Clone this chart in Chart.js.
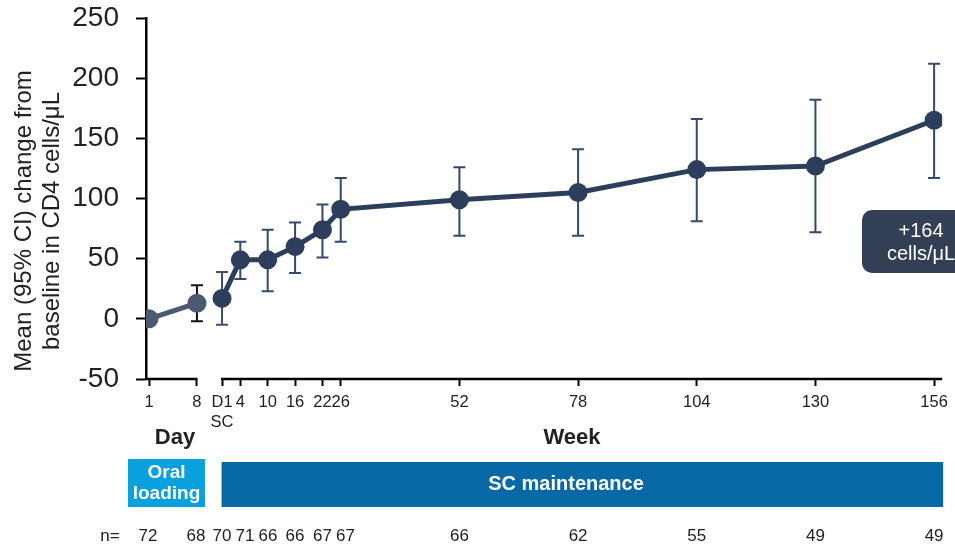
<!DOCTYPE html>
<html>
<head>
<meta charset="utf-8">
<script src="https://cdn.jsdelivr.net/npm/chart.js@4/dist/chart.umd.min.js"></script>
<style>
html,body{margin:0;padding:0;background:#fff;}
canvas{display:block;}
</style>
</head>
<body>
<canvas id="c" width="955" height="545"></canvas>
<script>
// ---- data ----
const dayNumbers = [1, 8];
const dayTickLabels = ['1', '8'];
const dayMean = [0, 13];
const dayLow = [null, -2];
const dayHigh = [null, 28];
const dayN = [72, 68];

const weekNumbers = [0, 4, 10, 16, 22, 26, 52, 78, 104, 130, 156];
const weekTickLabels = [['D1', 'SC'], '4', '10', '16', '22', '26', '52', '78', '104', '130', '156'];
const weekMean = [17, 49, 49, 60, 74, 91, 99, 105, 124, 127, 165];
const weekLow = [-5, 33, 23, 38, 51, 64, 69, 69, 81, 72, 117];
const weekHigh = [39, 64, 74, 80, 95, 117, 126, 141, 166, 182, 212];
const weekN = [70, 71, 66, 66, 67, 67, 66, 62, 55, 49, 49];

const yTicks = [-50, 0, 50, 100, 150, 200, 250];
const yTitleLines = ['Mean (95% CI) change from', 'baseline in CD4 cells/\u03bcL'];
const annotationLines = ['+164', 'cells/\u03bcL'];
const phaseLabels = [['Oral', 'loading'], ['SC maintenance']];

// ---- layout helpers (positions on the shared x axis) ----
const DAY_X0 = -16, DAY_STEP = 1.5;
const dayX = d => DAY_X0 + (d - 1) * DAY_STEP;

const FONT = "'Liberation Sans', Arial, Helvetica, sans-serif";
const WEEK_COLOR = '#2c3e5c';
const DAY_COLOR = '#4a5a72';

const tickVals = dayNumbers.map(dayX).concat(weekNumbers);
const tickLabels = dayTickLabels.concat(weekTickLabels);

const dayData = dayNumbers.map((d, i) => ({x: dayX(d), y: dayMean[i]}));
const weekData = weekNumbers.map((w, i) => ({x: w, y: weekMean[i]}));

const decor = {
  id: 'decor',
  beforeDatasetsDraw(chart) {
    const ctx = chart.ctx, ys = chart.scales.y;
    const sets = [
      {meta: chart.getDatasetMeta(0), low: dayLow, high: dayHigh, color: '#111111'},
      {meta: chart.getDatasetMeta(1), low: weekLow, high: weekHigh, color: '#34496b'}
    ];
    ctx.save();
    ctx.lineWidth = 2;
    sets.forEach(s => {
      s.meta.data.forEach((pt, i) => {
        if (s.low[i] == null) return;
        const x = pt.x, y1 = ys.getPixelForValue(s.low[i]), y2 = ys.getPixelForValue(s.high[i]);
        ctx.strokeStyle = (s === sets[1] && i === 0) ? '#3d4f6c' : s.color;
        ctx.beginPath();
        ctx.moveTo(x, y1); ctx.lineTo(x, y2);
        ctx.moveTo(x - 6, y1); ctx.lineTo(x + 6, y1);
        ctx.moveTo(x - 6, y2); ctx.lineTo(x + 6, y2);
        ctx.stroke();
      });
    });
    ctx.restore();
  },
  afterDraw(chart) {
    const ctx = chart.ctx, xs = chart.scales.x, area = chart.chartArea;
    ctx.save();
    // broken x axis line
    ctx.strokeStyle = '#000';
    ctx.lineWidth = 2.5;
    const yb = area.bottom;
    ctx.beginPath();
    ctx.moveTo(area.left - 1, yb); ctx.lineTo(xs.getPixelForValue(dayX(8)) + 0.5, yb);
    ctx.moveTo(xs.getPixelForValue(0) - 1, yb); ctx.lineTo(area.right, yb);
    ctx.stroke();

    // y axis title
    ctx.fillStyle = '#222';
    ctx.font = '24px ' + FONT;
    ctx.textAlign = 'center';
    ctx.textBaseline = 'middle';
    ctx.save();
    ctx.translate(24, 221);
    ctx.rotate(-Math.PI / 2);
    ctx.fillText(yTitleLines[0], 0, 0);
    ctx.fillText(yTitleLines[1], 0, 28);
    ctx.restore();

    // Day / Week axis titles
    ctx.fillStyle = '#222';
    ctx.font = 'bold 22px ' + FONT;
    ctx.fillText('Day', (xs.getPixelForValue(dayX(1)) + xs.getPixelForValue(dayX(8))) / 2 + 2, 438);
    ctx.fillText('Week', 572, 438);

    // phase bars
    const oL = xs.getPixelForValue(dayX(1)) - 21, oR = xs.getPixelForValue(dayX(8)) + 8;
    ctx.fillStyle = '#08a1de';
    ctx.fillRect(oL, 459, oR - oL, 48);
    const sL = xs.getPixelForValue(0) - 0.5, sR = area.right + 1;
    ctx.fillStyle = '#0869a6';
    ctx.fillRect(sL, 462, sR - sL, 45);
    ctx.fillStyle = '#fff';
    ctx.font = 'bold 19px ' + FONT;
    ctx.fillText(phaseLabels[0][0], (oL + oR) / 2, 473);
    ctx.fillText(phaseLabels[0][1], (oL + oR) / 2, 494);
    ctx.font = 'bold 20px ' + FONT;
    ctx.fillText(phaseLabels[1][0], 566, 484);

    // n row (nudged apart so neighbours do not overlap)
    ctx.fillStyle = '#222';
    ctx.font = '17px ' + FONT;
    ctx.fillText('n=', 110, 536);
    dayNumbers.forEach((d, i) => ctx.fillText(String(dayN[i]), xs.getPixelForValue(dayX(d)) - 1, 536));
    let prev = -Infinity;
    weekNumbers.forEach((w, i) => {
      const px = Math.max(xs.getPixelForValue(w), prev + 23);
      ctx.fillText(String(weekN[i]), px, 536);
      prev = px;
    });

    // annotation box
    ctx.fillStyle = '#333f54';
    ctx.beginPath();
    ctx.roundRect(862, 210, 110, 63, 10);
    ctx.fill();
    ctx.fillStyle = '#fff';
    ctx.font = '20px ' + FONT;
    ctx.fillText(annotationLines[0], 921, 231);
    ctx.fillText(annotationLines[1], 921, 254);
    ctx.restore();
  }
};

new Chart(document.getElementById('c'), {
  type: 'line',
  data: {
    datasets: [
      {
        data: dayData,
        borderColor: DAY_COLOR,
        backgroundColor: DAY_COLOR,
        pointBackgroundColor: DAY_COLOR,
        pointBorderColor: DAY_COLOR,
        borderWidth: 5,
        pointRadius: 7,
        tension: 0
      },
      {
        data: weekData,
        borderColor: WEEK_COLOR,
        backgroundColor: WEEK_COLOR,
        pointBackgroundColor: WEEK_COLOR,
        pointBorderColor: WEEK_COLOR,
        borderWidth: 5,
        pointRadius: 7,
        tension: 0
      }
    ]
  },
  options: {
    responsive: false,
    animation: false,
    devicePixelRatio: 1,
    layout: {padding: {left: 0, top: 18, right: 10, bottom: 106}},
    plugins: {legend: {display: false}, tooltip: {enabled: false}},
    scales: {
      x: {
        type: 'linear',
        min: -16.66,
        max: 157.76,
        afterFit(s) { s.height = 60; },
        afterBuildTicks(s) { s.ticks = tickVals.map(v => ({value: v})); },
        border: {display: false},
        grid: {drawOnChartArea: false, drawTicks: true, tickLength: 7, tickWidth: 2, tickColor: '#000'},
        ticks: {
          autoSkip: false, maxRotation: 0, minRotation: 0, padding: 7,
          color: '#222', font: {family: FONT, size: 16.5},
          callback: (v, i) => tickLabels[i]
        }
      },
      y: {
        min: -50,
        max: 250,
        afterFit(s) { s.width = 146; s.paddingTop = 0; s.paddingBottom = 0; },
        afterBuildTicks(s) { s.ticks = yTicks.map(v => ({value: v})); },
        border: {display: true, color: '#000', width: 2.5},
        grid: {drawOnChartArea: false, drawTicks: true, tickLength: 10, tickWidth: 2, tickColor: '#000'},
        ticks: {padding: 17, color: '#222', font: {family: FONT, size: 28}}
      }
    }
  },
  plugins: [decor]
});
</script>
</body>
</html>
